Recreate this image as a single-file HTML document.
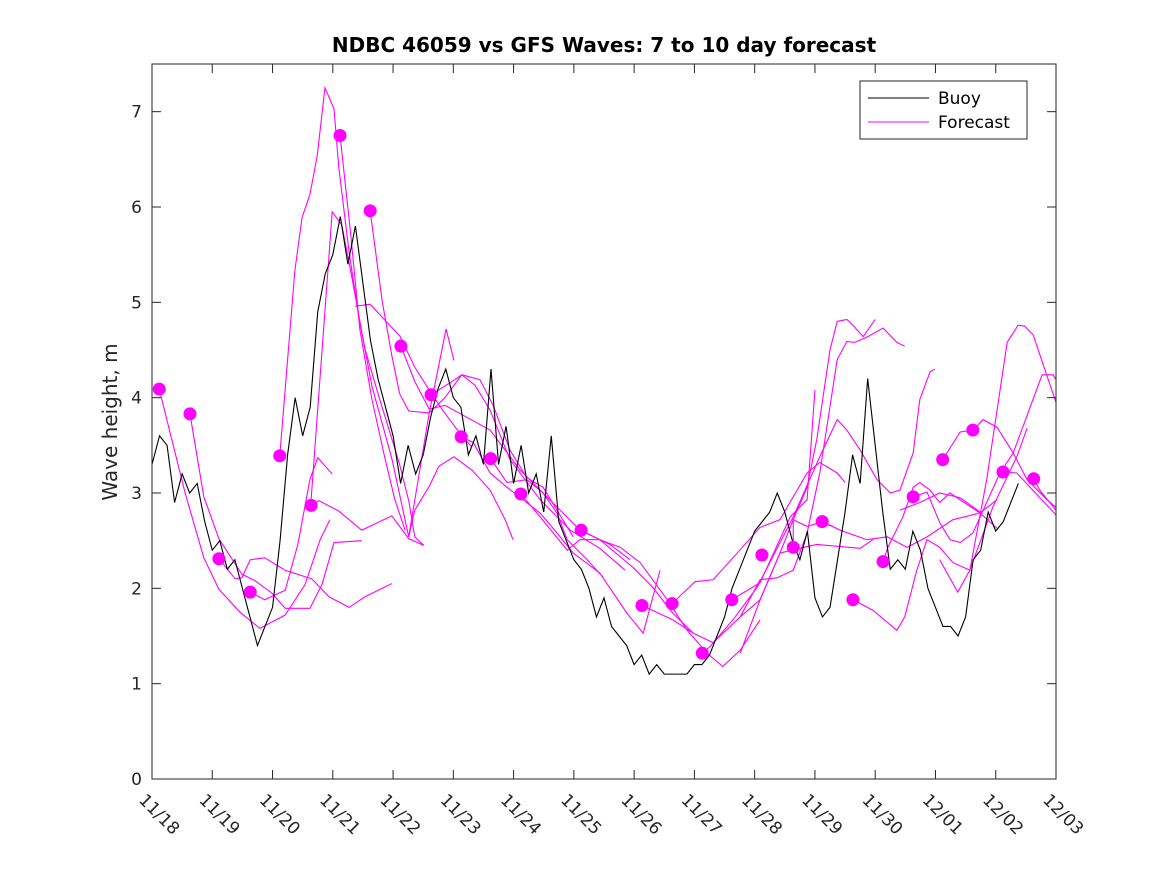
<!DOCTYPE html>
<html><head><meta charset="utf-8"><style>
body{margin:0;background:#fff;}
svg{display:block;font-family:"DejaVu Sans","Liberation Sans",sans-serif;}
</style></head><body>
<svg id="chart" width="1167" height="875"></svg>
<script>
const xTickLabels=["11/18","11/19","11/20","11/21","11/22","11/23","11/24","11/25","11/26","11/27","11/28","11/29","11/30","12/01","12/02","12/03"];
const yTicks=[0,1,2,3,4,5,6,7];
const buoyStart=0, buoyStep=0.125;
const buoyValues=[3.3,3.6,3.5,2.9,3.2,3.0,3.1,2.7,
2.4,2.5,2.2,2.3,2.0,1.7,1.4,1.6,
1.8,2.5,3.4,4.0,3.6,3.9,4.9,5.3,
5.5,5.9,5.4,5.8,5.2,4.6,4.2,3.9,
3.6,3.1,3.5,3.2,3.4,3.8,4.1,4.3,
4.0,3.9,3.4,3.6,3.3,4.3,3.3,3.7,
3.1,3.5,3.0,3.2,2.8,3.6,2.7,2.5,
2.3,2.2,2.0,1.7,1.9,1.6,1.5,1.4,
1.2,1.3,1.1,1.2,1.1,1.1,1.1,1.1,
1.2,1.2,1.3,1.5,1.7,2.0,2.2,2.4,
2.6,2.7,2.8,3.0,2.8,2.5,2.3,2.6,
1.9,1.7,1.8,2.3,2.8,3.4,3.1,4.2,
3.5,2.8,2.2,2.3,2.2,2.6,2.4,2.0,
1.8,1.6,1.6,1.5,1.7,2.3,2.4,2.8,
2.6,2.7,2.9,3.1];
const dotDays=[0.12,0.63,1.11,1.63,2.12,2.64,3.12,3.62,4.13,4.63,5.13,5.62,6.12,7.12,8.13,8.63,9.13,9.62,10.12,10.64,11.12,11.63,12.13,12.63,13.12,13.62,14.12,14.63];
const dotValues=[4.09,3.83,2.31,1.96,3.39,2.87,6.75,5.96,4.54,4.03,3.59,3.36,2.99,2.61,1.82,1.84,1.32,1.88,2.35,2.43,2.70,1.88,2.28,2.96,3.35,3.66,3.22,3.15];
const forecasts=[
[[0.12,4.09],[0.55,3.00],[0.86,2.32],[1.11,1.99],[1.46,1.75],[1.79,1.58],[2.21,1.72],[2.54,2.04],[2.79,2.51],[2.95,2.72]],
[[0.63,3.83],[0.86,2.96],[1.11,2.52],[1.49,2.15],[1.71,2.08],[1.99,1.95],[2.21,1.79],[2.62,1.79],[2.82,2.04],[3.02,2.48],[3.48,2.50]],
[[1.11,2.31],[1.38,2.10],[1.49,2.11],[1.63,2.30],[1.87,2.32],[2.21,2.19],[2.65,2.10],[2.94,1.91],[3.27,1.80],[3.53,1.91],[3.98,2.05]],
[[1.63,1.96],[1.87,1.88],[2.21,1.98],[2.42,2.46],[2.62,3.14],[2.75,3.37],[2.99,3.20]],
[[2.12,3.39],[2.37,5.33],[2.49,5.89],[2.62,6.13],[2.74,6.53],[2.87,7.25],[3.02,7.03],[3.10,6.41],[3.27,5.53],[3.43,4.85],[3.65,4.12],[3.98,3.36],[4.26,2.54]],
[[2.64,2.93],[2.99,5.95],[3.15,5.81],[3.32,5.25],[3.53,4.52],[3.77,4.00],[4.10,3.32],[4.26,2.92],[4.36,2.54],[4.51,2.45]],
[[2.64,2.87],[2.77,2.92],[3.10,2.81],[3.48,2.61],[3.98,2.76],[4.26,2.52],[4.51,2.45]],
[[3.12,6.75],[3.29,5.76],[3.45,4.71],[3.65,3.98],[3.87,3.35],[4.03,2.93],[4.20,2.61]],
[[3.62,5.96],[3.82,5.01],[3.98,4.44],[4.11,4.04],[4.26,3.86],[4.60,3.84],[4.86,4.00],[5.14,4.24],[5.44,4.19],[5.66,3.92],[5.94,3.45],[6.22,3.16],[6.49,3.06],[6.99,2.54]],
[[3.37,4.96],[3.62,4.98],[3.87,4.81],[4.11,4.65],[4.36,4.32],[4.60,4.08],[4.81,3.88],[5.14,3.60],[5.31,3.48]],
[[5.13,3.59],[5.33,3.53],[5.61,3.21],[5.89,3.06],[6.44,2.79],[6.72,2.58],[6.99,2.37],[7.43,2.16],[7.88,1.74],[8.15,1.53],[8.43,2.19]],
[[4.13,4.54],[4.36,4.17],[4.60,3.88],[4.86,3.92],[5.61,3.66],[6.11,3.24],[6.60,2.93],[7.10,2.61],[7.60,2.46],[7.93,2.30]],
[[4.26,2.54],[4.60,3.84],[4.88,4.72],[5.01,4.39]],
[[4.26,2.54],[4.36,2.82],[4.60,3.07],[4.76,3.28],[5.01,3.38],[5.31,3.24],[5.61,3.03],[5.86,2.72],[5.99,2.51]],
[[4.63,4.03],[4.98,4.17],[5.14,4.24],[5.36,4.13],[5.61,3.87],[5.94,3.35],[6.44,2.93],[6.94,2.61],[7.43,2.42],[7.85,2.19]],
[[5.62,3.36],[5.89,3.11],[6.22,3.14],[6.49,3.00],[6.72,2.79],[6.89,2.51],[7.22,2.30],[7.48,2.12]],
[[6.12,2.99],[6.44,2.75],[6.89,2.40],[7.10,2.51],[7.43,2.51],[7.98,2.22],[8.31,2.01],[8.64,1.74],[8.98,1.53]],
[[7.12,2.61],[7.43,2.51],[7.77,2.43],[8.10,2.27],[8.55,1.88],[8.88,1.56],[9.21,1.32],[9.47,1.18],[9.76,1.35],[10.09,1.67]],
[[8.13,1.82],[8.64,1.67],[8.98,1.53],[9.31,1.43],[9.76,1.70],[10.09,1.88],[10.42,2.37],[10.75,2.42],[11.03,2.46],[11.75,2.42],[11.96,2.51]],
[[8.63,1.84],[9.01,2.07],[9.31,2.09],[9.71,2.37],[10.09,2.64],[10.42,2.72],[10.87,3.21],[11.08,3.32],[11.37,3.21],[11.50,3.11]],
[[9.13,1.32],[9.26,1.39],[9.64,1.67],[10.04,2.01],[10.64,2.75],[11.08,3.38],[11.37,3.77],[11.53,3.66],[11.75,3.45],[12.03,3.14],[12.25,3.00],[12.41,3.03],[12.63,3.42],[12.74,3.98],[12.91,4.27],[12.99,4.30]],
[[9.76,1.32],[10.09,1.88],[10.42,2.37],[10.64,2.72],[10.87,3.06],[11.03,3.56],[11.25,4.50],[11.37,4.80],[11.53,4.82],[11.63,4.76],[11.80,4.64],[12.00,4.82]],
[[9.76,1.70],[10.09,2.09],[10.37,2.11],[10.64,2.19],[10.87,2.58],[11.08,3.21],[11.37,4.40],[11.53,4.59],[11.66,4.58],[11.88,4.64],[12.13,4.73],[12.36,4.58],[12.49,4.54]],
[[9.62,1.88],[10.09,2.06],[10.59,2.75],[10.87,2.93],[11.00,4.08]],
[[10.64,2.43],[10.64,2.72],[10.87,2.65],[11.08,2.69],[11.30,2.65]],
[[11.12,2.70],[11.42,2.61],[11.86,2.51],[12.20,2.54],[12.53,2.43],[12.86,2.54],[13.29,2.72],[13.74,2.79],[14.02,2.63]],
[[11.63,1.88],[11.96,1.77],[12.36,1.56],[12.49,1.70],[12.69,2.19],[12.86,2.51],[13.07,2.43],[13.29,2.27],[13.57,2.19],[13.85,3.14],[14.19,4.58],[14.37,4.76],[14.48,4.75],[14.62,4.66],[15.0,3.95]],
[[12.13,2.28],[12.21,2.43],[12.46,2.75],[12.63,3.06],[12.74,3.11],[12.91,3.03],[13.07,2.90],[13.24,3.00],[13.74,2.79],[14.02,2.93]],
[[12.63,2.96],[12.86,3.01],[13.07,2.69],[13.24,2.51],[13.41,2.48],[13.62,2.58],[14.07,3.21],[14.29,3.42],[14.77,4.24],[14.95,4.24],[15.0,4.19]],
[[13.12,3.35],[13.41,3.64],[13.62,3.66],[13.79,3.77],[14.02,3.69],[14.29,3.42],[14.52,3.14],[14.85,2.93],[15.0,2.85]],
[[14.12,3.22],[14.35,3.21],[14.57,3.06],[15.0,2.77]],
[[13.07,2.30],[13.37,1.96],[13.57,2.19],[13.95,2.85],[14.19,3.17],[14.35,3.38],[14.52,3.68]],
[[14.63,3.15],[14.73,3.03],[15.0,2.82]],
[[12.41,2.82],[12.74,2.90],[13.07,3.00],[13.41,2.95],[13.74,2.80]]
];

const L=152,R=1056,T=64,B=779,X0=0,X1=15,Y0=0,Y1=7.5;
const sx=d=>L+(d-X0)/(X1-X0)*(R-L);
const sy=v=>B-(v-Y0)/(Y1-Y0)*(B-T);
const NS="http://www.w3.org/2000/svg";
const svg=document.getElementById('chart');
function mk(tag,attrs,parent){const e=document.createElementNS(NS,tag);for(const k in attrs)e.setAttribute(k,attrs[k]);(parent||svg).appendChild(e);return e;}

const clip=mk('clipPath',{id:'pc'});mk('rect',{x:L,y:T,width:R-L,height:B-T},clip);
const bg=mk('rect',{x:L,y:T,width:R-L,height:B-T,fill:'#fff'});



const fg=mk('g',{'clip-path':'url(#pc)'});


forecasts.forEach((f,i)=>{
  const p=mk('polyline',{points:f.map(q=>sx(q[0])+','+sy(q[1])).join(' '),fill:'none',stroke:'#ff00ff','stroke-width':1.1},fg);
  
  
});
const bp=mk('polyline',{points:buoyValues.map((v,i)=>sx(buoyStart+i*buoyStep)+','+sy(v)).join(' '),fill:'none',stroke:'#000','stroke-width':1.1,'clip-path':'url(#pc)'});


dotDays.forEach((d,i)=>{
  const c=mk('circle',{cx:sx(d),cy:sy(dotValues[i]),r:6.5,fill:'#ff00ff'});
  
  
});

const box=mk('rect',{x:L,y:T,width:R-L,height:B-T,fill:'none',stroke:'#262626','stroke-width':1});


yTicks.forEach(v=>{
  const y=sy(v);
  mk('line',{x1:L,y1:y,x2:L+9,y2:y,stroke:'#262626'});
  mk('line',{x1:R,y1:y,x2:R-9,y2:y,stroke:'#262626'});
  const t=mk('text',{x:L-10,y:y+6,'text-anchor':'end','font-size':17,fill:'#262626'});
  t.textContent=v;
  
  
});
xTickLabels.forEach((s,i)=>{
  const x=sx(i);
  mk('line',{x1:x,y1:B,x2:x,y2:B-9,stroke:'#262626'});
  mk('line',{x1:x,y1:T,x2:x,y2:T+9,stroke:'#262626'});
  const t=mk('text',{x:x-14,y:B+22,'font-size':17,fill:'#262626',transform:`rotate(45 ${x-14} ${B+22})`});
  t.textContent=s;
  
  
});
const title=mk('text',{x:604,y:52,'text-anchor':'middle','font-size':20,'font-weight':'bold',fill:'#000'});
title.textContent='NDBC 46059 vs GFS Waves: 7 to 10 day forecast';


const yl=mk('text',{x:117,y:422,'text-anchor':'middle','font-size':20,fill:'#262626',transform:'rotate(-90 117 422)'});
yl.textContent='Wave height, m';



const lg=mk('g',{});


mk('rect',{x:860,y:81,width:167,height:58,fill:'#fff',stroke:'#262626'},lg);
mk('line',{x1:868,y1:98,x2:929,y2:98,stroke:'#000','stroke-width':1.1},lg);
mk('line',{x1:868,y1:122,x2:929,y2:122,stroke:'#ff00ff','stroke-width':1.1},lg);
const t1=mk('text',{x:938,y:104,'font-size':17,fill:'#000'},lg);t1.textContent='Buoy';


const t2=mk('text',{x:938,y:128,'font-size':17,fill:'#000'},lg);t2.textContent='Forecast';


</script>
</body></html>
